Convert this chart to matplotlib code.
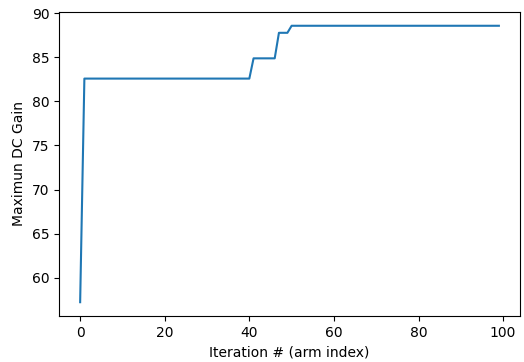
import matplotlib.pyplot as plt

# melhor ganho DC encontrado até cada iteração
iterations = list(range(100))
max_gain = (
    [57.2]
    + [82.6] * 40
    + [84.9] * 6
    + [87.8] * 3
    + [88.6] * 50
)

fig = plt.figure(figsize=(5.24, 3.62), dpi=100)
ax = fig.add_subplot(111)
fig.subplots_adjust(left=0.113, right=0.992, top=0.967, bottom=0.127)

ax.plot(iterations, max_gain, color="#1f77b4", linewidth=1.5)
ax.set_xlabel("Iteration # (arm index)")
ax.set_ylabel("Maximun DC Gain")

fig.savefig("out.png", dpi=100)
